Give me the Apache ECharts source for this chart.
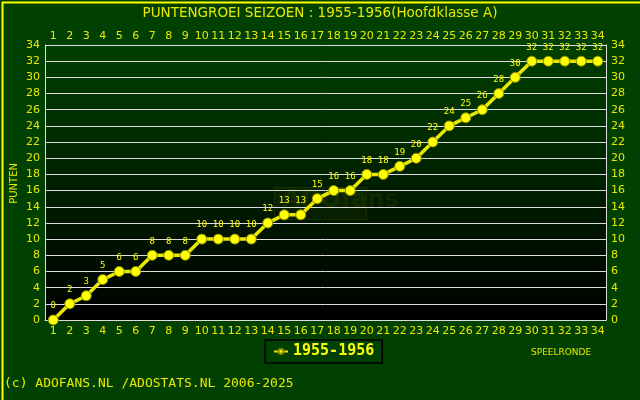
<!DOCTYPE html>
<html><head><meta charset="utf-8">
<script src="https://cdn.jsdelivr.net/npm/echarts@6/dist/echarts.min.js"></script>
<style>html,body{margin:0;padding:0;background:#004000}#c{width:640px;height:400px}</style>
</head><body><div id="c"></div>
<script>
const rounds = ["1","2","3","4","5","6","7","8","9","10","11","12","13","14","15","16","17","18","19","20","21","22","23","24","25","26","27","28","29","30","31","32","33","34"];
const points = [0,2,3,5,6,6,8,8,8,10,10,10,10,12,13,13,15,16,16,18,18,19,20,22,24,25,26,28,30,32,32,32,32,32];
const seriesName = "1955-1956";
const titleText = "PUNTENGROEI SEIZOEN : 1955-1956(Hoofdklasse A)";
const yTicks = {min:0, max:34, interval:2};

const Y = "#e8e800";
const chart = echarts.init(document.getElementById('c'), null, {renderer:'canvas'});
const axisLabel = {color:Y, fontFamily:'DejaVu Sans', fontSize:11};
chart.setOption({
  backgroundColor:'#004000',
  animation:false,
  title:{text:titleText, left:'center', top:1, textStyle:{color:Y, fontFamily:'DejaVu Sans', fontSize:13.5, fontWeight:'normal'}},
  graphic:[
    {type:'rect', left:0, top:0, shape:{width:639, height:399}, style:{fill:'none', stroke:'#ffff00', lineWidth:2}, silent:true, z:100},
    {type:'rect', left:45, top:45, shape:{width:561, height:275}, style:{fill:new echarts.graphic.LinearGradient(0,0,0,1,[{offset:0,color:'#004000'},{offset:1,color:'#000000'}])}, z:-1},
    {type:'rect', left:274, top:187, shape:{width:92, height:32}, style:{fill:'rgba(60,80,0,0.12)', stroke:'rgba(80,90,0,0.25)', lineWidth:1}, z:0},
    {type:'text', left:282, top:189, style:{text:'ADOfans', fill:'rgba(70,80,0,0.22)', font:'bold 24px DejaVu Sans'}, z:0},
    {type:'text', left:531, top:348, style:{text:'SPEELRONDE', fill:Y, font:'9px DejaVu Sans'}},
    {type:'text', left:4, top:377, style:{text:'(c) ADOFANS.NL /ADOSTATS.NL 2006-2025', fill:Y, font:'13px DejaVu Sans Mono'}},
    {type:'text', left:9, top:163, rotation:Math.PI/2, style:{text:'PUNTEN', fill:Y, font:'10px DejaVu Sans'}}
  ],
  legend:{data:[seriesName], left:265, top:340, width:112, height:24, borderColor:'#000', borderWidth:1.5, padding:[4,8,4,8], itemWidth:14, itemHeight:6, textStyle:{color:'#ffff00', fontFamily:'DejaVu Sans Mono', fontWeight:'bold', fontSize:15}},
  grid:{left:45, right:34, top:45, bottom:80},
  xAxis:[
    {type:'category', data:rounds, position:'bottom', boundaryGap:true, axisLine:{lineStyle:{color:'#dddddd'}}, axisTick:{show:false}, axisLabel:Object.assign({interval:0, margin:6}, axisLabel)},
    {type:'category', data:rounds, position:'top', boundaryGap:true, axisLine:{show:false}, axisTick:{show:false}, axisLabel:Object.assign({interval:0, margin:3}, axisLabel)}
  ],
  yAxis:[
    {type:'value', min:yTicks.min, max:yTicks.max, interval:yTicks.interval, position:'left', axisLine:{show:true, lineStyle:{color:'#dddddd'}}, axisTick:{show:false}, splitLine:{lineStyle:{color:'#dddddd', width:1}}, axisLabel:Object.assign({margin:5}, axisLabel)},
    {type:'value', min:yTicks.min, max:yTicks.max, interval:yTicks.interval, position:'right', axisLine:{show:true, lineStyle:{color:'#dddddd'}}, axisTick:{show:false}, splitLine:{show:false}, axisLabel:Object.assign({margin:5}, axisLabel)}
  ],
  series:[{
    name:seriesName, type:'line', data:points, xAxisIndex:0, yAxisIndex:0,
    symbol:'circle', symbolSize:10,
    itemStyle:{color:'#ffff00', borderColor:'#8a8a00', borderWidth:1},
    lineStyle:{color:'#e8e800', width:3.5},
    label:{show:true, position:'top', distance:4, color:'#ffff00', fontFamily:'DejaVu Sans Mono', fontSize:9}
  }]
});
</script></body></html>
